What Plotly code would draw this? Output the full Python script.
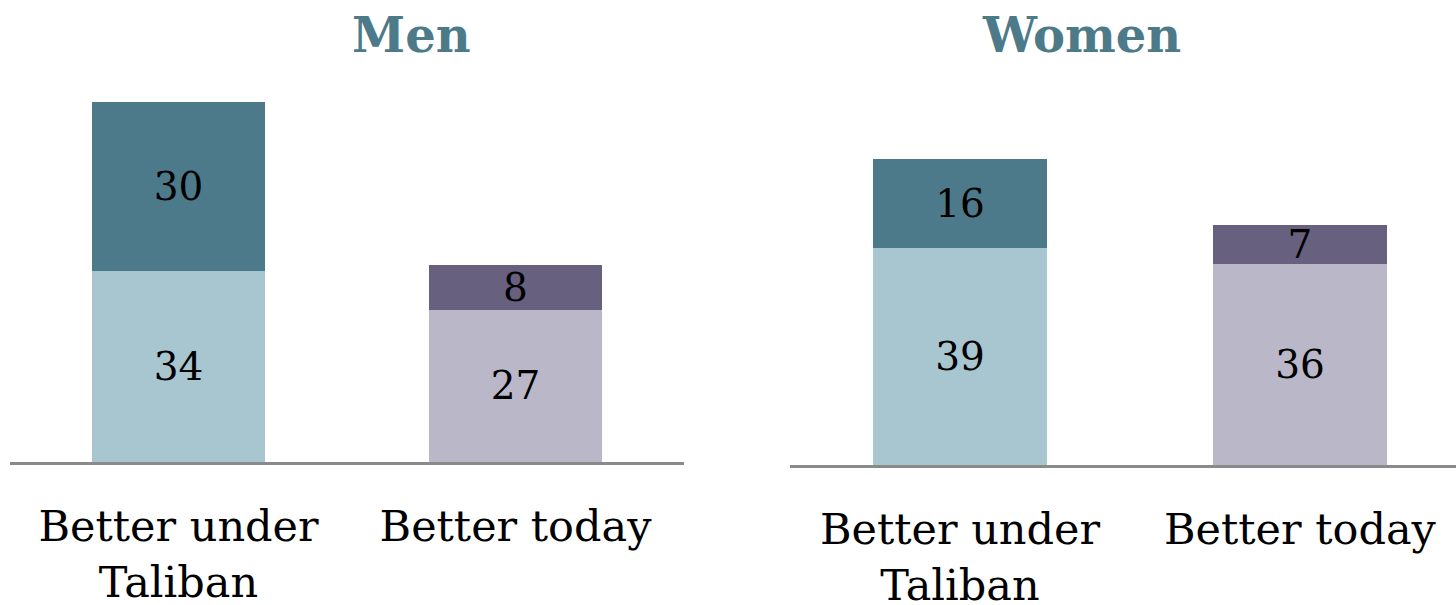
import plotly.graph_objects as go

panels = ["Men", "Women"]
categories = ["Better under<br>Taliban", "Better today"]
# lower (lighter) segment and upper (darker) segment per panel
men_lower = [34, 27]
men_upper = [30, 8]
women_lower = [39, 36]
women_upper = [16, 7]

lower_colors = ["#a8c6d0", "#bab8c8"]
upper_colors = ["#4c7a8a", "#67617f"]
title_color = "#4d7a89"
FONT = "DejaVu Serif"

W, H = 1456, 605
fig = go.Figure()

def add_panel(lower, upper, xa, ya):
    for vals, cols in ((lower, lower_colors), (upper, upper_colors)):
        fig.add_trace(go.Bar(x=categories, y=vals, xaxis=xa, yaxis=ya,
                             marker=dict(color=cols, line=dict(width=0)),
                             text=[str(v) for v in vals], textposition="inside",
                             insidetextanchor="middle", constraintext="none",
                             textangle=0,
                             textfont=dict(family=FONT, size=39, color="black"),
                             hoverinfo="skip", showlegend=False))

add_panel(men_lower, men_upper, "x", "y")
add_panel(women_lower, women_upper, "x2", "y2")

men_bottom = (H - 462) / H
women_bottom = (H - 465) / H

xcommon = dict(showgrid=False, zeroline=False, showline=True, linecolor="#8a8a8a",
               linewidth=2.5, ticks="outside", ticklen=25, tickcolor="rgba(0,0,0,0)",
               tickfont=dict(family=FONT, size=43, color="black"), fixedrange=True,
               automargin=False)
ycommon = dict(visible=False, showgrid=False, zeroline=False, fixedrange=True,
               automargin=False)

fig.update_layout(
    width=W, height=H,
    margin=dict(l=0, r=0, t=0, b=0, autoexpand=False),
    paper_bgcolor="white", plot_bgcolor="white",
    barmode="stack", bargap=0.487,
    xaxis=dict(domain=[10 / W, 684 / W], range=[-0.5, 1.5], anchor="y", **xcommon),
    xaxis2=dict(domain=[790 / W, 1.0], range=[-0.5, 1.459], anchor="y2", **xcommon),
    yaxis=dict(domain=[men_bottom, 1.0], range=[0, 462 / 5.63], anchor="x", **ycommon),
    yaxis2=dict(domain=[women_bottom, 1.0], range=[0, 465 / 5.57], anchor="x2", **ycommon),
)

title_x = [411 / W, 1081 / W]
for name, tx in zip(panels, title_x):
    fig.add_annotation(text="<b>" + name + "</b>", x=tx, y=1 - 35 / H,
                       xref="paper", yref="paper", xanchor="center", yanchor="middle",
                       showarrow=False,
                       font=dict(family=FONT, size=48, color=title_color))

fig.write_html("out.html", config={"displayModeBar": False},
               post_script="document.body.style.margin='0';document.body.style.overflow='hidden';")
